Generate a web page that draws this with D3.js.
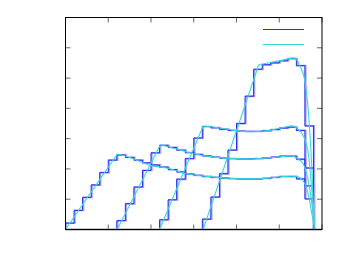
<!DOCTYPE html>
<html>
<head>
<meta charset="utf-8">
<script src="https://cdn.jsdelivr.net/npm/d3@7"></script>
<style>
  body { margin: 0; background: #fff; }
  svg { display: block; }
</style>
</head>
<body>
<svg id="chart"></svg>
<script>
// 数据：四条曲线，每条有阶梯版和平滑版
const binEdges = [0, 0.2, 0.4, 0.6, 0.8, 1.0, 1.2, 1.4, 1.6, 1.8, 2.0, 2.2, 2.4, 2.6, 2.8, 3.0,
  3.2, 3.4, 3.6, 3.8, 4.0, 4.2, 4.4, 4.6, 4.8, 5.0, 5.2, 5.4, 5.6, 5.8];

// 每个区间的值
const step1 = [0.21, 0.63, 1.06, 1.47, 1.88, 2.29, 2.46, 2.38, 2.29, 2.20, 2.13, 2.06, 1.98, 1.90, 1.83,
  1.79, 1.75, 1.72, 1.70, 1.68, 1.67, 1.67, 1.67, 1.69, 1.72, 1.75, 1.75, 1.67, 1.01];
const step2 = [0, 0, 0, 0, 0, 0, 0.29, 0.85, 1.40, 1.95, 2.53, 2.78, 2.71, 2.62, 2.54,
  2.48, 2.43, 2.39, 2.36, 2.34, 2.33, 2.33, 2.34, 2.36, 2.39, 2.42, 2.42, 2.32, 1.44];
const step3 = [0, 0, 0, 0, 0, 0, 0, 0, 0, 0, 0, 0.32, 0.98, 1.66, 2.34,
  3.02, 3.40, 3.36, 3.31, 3.27, 3.25, 3.24, 3.24, 3.26, 3.30, 3.35, 3.38, 3.27, 2.03];
const step4 = [0, 0, 0, 0, 0, 0, 0, 0, 0, 0, 0, 0, 0, 0, 0,
  0, 0.34, 1.07, 1.84, 2.62, 3.50, 4.40, 5.29, 5.44, 5.50, 5.57, 5.64, 5.41, 3.42];

// 平滑曲线：第 1、2 点是直线上升段（起点、峰值），之后是平滑段
const smooth1 = [[0, 0], [1.21, 2.49], [1.5, 2.38], [2.0, 2.11], [2.4, 2.02], [2.77, 1.86], [3.2, 1.77],
  [3.54, 1.72], [4.0, 1.68], [4.32, 1.67], [4.7, 1.69], [5.1, 1.75], [5.3, 1.76], [5.41, 1.75],
  [5.57, 1.58], [5.69, 1.09], [5.76, 0.54], [5.83, 0]];
const smooth2 = [[1.21, 0], [2.22, 2.8], [2.6, 2.66], [3.0, 2.5], [3.54, 2.38], [4.0, 2.34], [4.32, 2.33],
  [4.7, 2.36], [5.1, 2.41], [5.3, 2.43], [5.41, 2.36], [5.57, 2.14], [5.69, 1.53], [5.76, 0.87], [5.83, 0]];
const smooth3 = [[2.2, 0], [3.22, 3.42], [3.54, 3.37], [3.9, 3.28], [4.32, 3.23], [4.7, 3.26], [5.1, 3.37],
  [5.3, 3.42], [5.41, 3.35], [5.57, 3.07], [5.69, 2.41], [5.76, 1.31], [5.83, 0]];
const smooth4 = [[3.22, 0], [4.52, 5.44], [4.7, 5.49], [5.1, 5.6], [5.3, 5.66], [5.37, 5.66], [5.49, 5.38],
  [5.61, 4.83], [5.69, 3.73], [5.76, 2.08], [5.82, 0]];

const xTicks = [0, 1, 2, 3, 4, 5, 6];
const yTicks = [0, 1, 2, 3, 4, 5, 6, 7];

const width = 350, height = 279;
const margin = { left: 65.5, right: 28, top: 17.5, bottom: 49.5 };

const svg = d3.select("#chart").attr("width", width).attr("height", height);

const x = d3.scaleLinear().domain([0, 6]).range([margin.left, width - margin.right]);
const y = d3.scaleLinear().domain([0, 7]).range([height - margin.bottom, margin.top]);

// 刻度（朝内，四边都有）
const tickLen = 5;
const tickColor = "#666";
const ticks = svg.append("g");
xTicks.forEach(t => {
  ticks.append("line").attr("x1", x(t)).attr("x2", x(t))
    .attr("y1", y(0)).attr("y2", y(0) - tickLen).attr("stroke", tickColor);
  ticks.append("line").attr("x1", x(t)).attr("x2", x(t))
    .attr("y1", y(7)).attr("y2", y(7) + tickLen).attr("stroke", tickColor);
});
yTicks.forEach(t => {
  ticks.append("line").attr("x1", x(0)).attr("x2", x(0) + tickLen)
    .attr("y1", y(t)).attr("y2", y(t)).attr("stroke", tickColor);
  ticks.append("line").attr("x1", x(6)).attr("x2", x(6) - tickLen)
    .attr("y1", y(t)).attr("y2", y(t)).attr("stroke", tickColor);
});

// 阶梯线：把区间值变成点（跳过开头的 0）
function stepPoints(vals) {
  const pts = [];
  let started = false;
  vals.forEach((v, i) => {
    if (!started && v === 0) return;
    if (!started) {
      pts.push([binEdges[i], 0]);
      started = true;
    }
    pts.push([binEdges[i], v]);
    pts.push([binEdges[i + 1], v]);
  });
  pts.push([binEdges[binEdges.length - 1], 0]);
  return pts;
}

const straight = d3.line().x(d => x(d[0])).y(d => y(d[1]));
const smoothLine = d3.line().x(d => x(d[0])).y(d => y(d[1])).curve(d3.curveMonotoneX);

const steps = [step1, step2, step3, step4];
const smooths = [smooth1, smooth2, smooth3, smooth4];

// 浅紫色阶梯（底层）
steps.forEach(s => {
  svg.append("path").datum(stepPoints(s)).attr("d", straight)
    .attr("transform", "translate(0.8,0)")
    .attr("fill", "none").attr("stroke", "#a4a4ff").attr("stroke-width", 1.8);
});
// 蓝色阶梯
steps.forEach(s => {
  svg.append("path").datum(stepPoints(s)).attr("d", straight)
    .attr("fill", "none").attr("stroke", "#2a2aee").attr("stroke-width", 1);
});
// 青色平滑线：上升段直线 + 后段平滑
smooths.forEach(s => {
  svg.append("path").datum(s.slice(0, 2)).attr("d", straight)
    .attr("fill", "none").attr("stroke", "#3ad8d8").attr("stroke-width", 1.1);
  svg.append("path").datum(s.slice(1)).attr("d", smoothLine)
    .attr("fill", "none").attr("stroke", "#3ad8d8").attr("stroke-width", 1.1);
});

// 底部灰线
svg.append("line").attr("x1", x(0)).attr("x2", x(6)).attr("y1", y(0)).attr("y2", y(0))
  .attr("stroke", "#9494a4").attr("stroke-width", 2);

// 边框
svg.append("rect").attr("x", x(0)).attr("y", y(7))
  .attr("width", x(6) - x(0)).attr("height", y(0) - y(7))
  .attr("fill", "none").attr("stroke", "#000").attr("stroke-width", 1);

// 图例
const legend = svg.append("g");
legend.append("line").attr("x1", 263).attr("x2", 304).attr("y1", 29.5).attr("y2", 29.5)
  .attr("stroke", "#2a2aee").attr("stroke-width", 1.2);
legend.append("line").attr("x1", 263).attr("x2", 304).attr("y1", 44.5).attr("y2", 44.5)
  .attr("stroke", "#3ad8d8").attr("stroke-width", 1.2);
</script>
</body>
</html>
